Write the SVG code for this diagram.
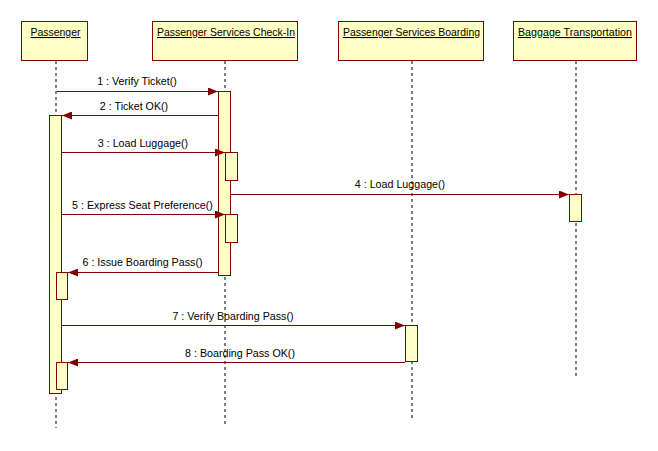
<svg xmlns="http://www.w3.org/2000/svg" width="658" height="451" viewBox="0 0 658 451">
<style>
.box{fill:#FFFFC6;stroke:#800000;stroke-width:1}
.act{fill:#FFFFC6;stroke:#800000;stroke-width:1}
.life{stroke:#000;stroke-width:1;stroke-dasharray:3,3;fill:none}
.msg{stroke:#800000;stroke-width:1;fill:none}
.t{font-family:"Liberation Sans",Arial,sans-serif;font-size:10.7px;fill:#000;text-anchor:middle}
.h{text-decoration:underline}
</style>
<defs>
<marker id="arr" viewBox="0 0 10 8" refX="10" refY="4" markerWidth="10" markerHeight="8" markerUnits="userSpaceOnUse" orient="auto">
<path d="M0,0 L10,4 L0,8 Z" fill="#800000"/>
</marker>
</defs>
<rect width="658" height="451" fill="#fff"/>
<g id="lifelines">
<line class="life" x1="56" y1="61" x2="56" y2="428"/>
<line class="life" x1="225" y1="61" x2="225" y2="427"/>
<line class="life" x1="412" y1="61" x2="412" y2="421"/>
<line class="life" x1="576" y1="61" x2="576" y2="377"/>
</g>
<g id="passenger">
<rect class="box" x="21.5" y="21.5" width="66" height="39"/>
<text class="t h" x="55.5" y="36" textLength="50" lengthAdjust="spacingAndGlyphs">Passenger</text>
<rect class="act" x="49.5" y="115.5" width="12" height="278"/>
<rect class="act" x="56.5" y="272.5" width="11" height="27"/>
<rect class="act" x="56.5" y="362.5" width="11" height="27"/>
</g>
<g id="checkin">
<rect class="box" x="152.5" y="21.5" width="145" height="39"/>
<text class="t h" x="226" y="36" textLength="138" lengthAdjust="spacingAndGlyphs">Passenger Services Check-In</text>
<rect class="act" x="218.5" y="91.5" width="12" height="184"/>
<rect class="act" x="225.5" y="152.5" width="12" height="28"/>
<rect class="act" x="225.5" y="214.5" width="12" height="28"/>
</g>
<g id="boarding">
<rect class="box" x="338.5" y="21.5" width="145" height="39"/>
<text class="t h" x="411.5" y="36" textLength="137" lengthAdjust="spacingAndGlyphs">Passenger Services Boarding</text>
<rect class="act" x="405.5" y="325.5" width="12" height="36"/>
</g>
<g id="baggage">
<rect class="box" x="513.5" y="21.5" width="123" height="39"/>
<text class="t h" x="575" y="36" textLength="114" lengthAdjust="spacingAndGlyphs">Baggage Transportation</text>
<rect class="act" x="569.5" y="194.5" width="12" height="27"/>
</g>
<g id="connectors">
<line class="msg" x1="57" y1="91.5" x2="218" y2="91.5" marker-end="url(#arr)"/>
<text class="t" x="137" y="85">1 : Verify Ticket()</text>
<line class="msg" x1="218" y1="115.5" x2="62" y2="115.5" marker-end="url(#arr)"/>
<text class="t" x="134" y="110">2 : Ticket OK()</text>
<line class="msg" x1="62" y1="152.5" x2="225" y2="152.5" marker-end="url(#arr)"/>
<text class="t" x="143" y="147">3 : Load Luggage()</text>
<line class="msg" x1="231" y1="194.5" x2="569" y2="194.5" marker-end="url(#arr)"/>
<text class="t" x="400" y="188">4 : Load Luggage()</text>
<line class="msg" x1="62" y1="214.5" x2="225" y2="214.5" marker-end="url(#arr)"/>
<text class="t" x="142.5" y="209">5 : Express Seat Preference()</text>
<line class="msg" x1="218" y1="272.5" x2="68" y2="272.5" marker-end="url(#arr)"/>
<text class="t" x="142.5" y="266">6 : Issue Boarding Pass()</text>
<line class="msg" x1="62" y1="325.5" x2="405" y2="325.5" marker-end="url(#arr)"/>
<text class="t" x="233" y="320">7 : Verify Boarding Pass()</text>
<line class="msg" x1="405" y1="362.5" x2="68" y2="362.5" marker-end="url(#arr)"/>
<text class="t" x="240" y="357">8 : Boarding Pass OK()</text>
</g>
</svg>
